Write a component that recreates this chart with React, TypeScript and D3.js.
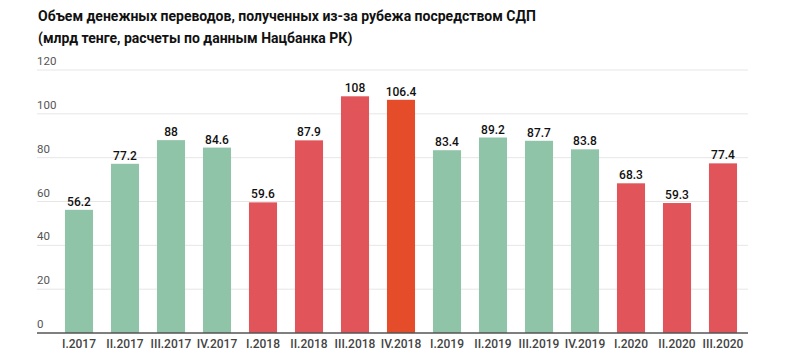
import React from "react";
import * as d3 from "d3";

const categories = ["I.2017","II.2017","III.2017","IV.2017","I.2018","II.2018","III.2018","IV.2018","I.2019","II.2019","III.2019","IV.2019","I.2020","II.2020","III.2020"];
const values = [56.2, 77.2, 88, 84.6, 59.6, 87.9, 108, 106.4, 83.4, 89.2, 87.7, 83.8, 68.3, 59.3, 77.4];
const colorKeys = ["g","g","g","g","r","r","r","o","g","g","g","g","r","r","r"];
const yTicks = [0, 20, 40, 60, 80, 100, 120];
const titleLines = ["Объем денежных переводов, полученных из-за рубежа посредством СДП", "(млрд тенге, расчеты по данным Нацбанка РК)"];

const palette: Record<string, string> = { g: "#8fc4a8", r: "#e0545a", o: "#e44c2a" };

export default function App() {
  const W = 800, H = 363;
  const x = d3.scaleBand<string>().domain(categories).range([56, 746]).paddingInner(0.39).paddingOuter(0.195);
  const y = d3.scaleLinear().domain([0, 120]).range([333, 70]);
  const font = "Roboto, 'Noto Sans', sans-serif";
  return (
    <svg width={W} height={H} style={{ position: "absolute", left: 0, top: 0, background: "#fff" }} fontFamily={font}>
      {titleLines.map((t, i) => (
        <text key={i} x={38} y={21 + i * 21.5} fontSize={14} fontWeight={700} fill="#111">{t}</text>
      ))}
      {yTicks.map((t) => (
        <g key={t}>
          {t > 0 && <line x1={37} x2={748} y1={y(t)} y2={y(t)} stroke="#e6e6e6" strokeWidth={1} />}
          <text x={37} y={y(t) - 5} fontSize={11.5} fill="#555">{t}</text>
        </g>
      ))}
      {categories.map((c, i) => (
        <g key={c}>
          <rect x={x(c)} y={y(values[i])} width={x.bandwidth()} height={y(0) - y(values[i])} fill={palette[colorKeys[i]]} />
          <text x={(x(c) as number) + x.bandwidth() / 2} y={y(values[i]) - 4} textAnchor="middle" fontSize={12} fontWeight={500} fill="#111">{values[i]}</text>
          <text x={(x(c) as number) + x.bandwidth() / 2} y={348} textAnchor="middle" fontSize={12} fontWeight={500} fill="#444">{c}</text>
        </g>
      ))}
      <line x1={37} x2={748} y1={y(0)} y2={y(0)} stroke="#555" strokeWidth={1.5} />
    </svg>
  );
}
